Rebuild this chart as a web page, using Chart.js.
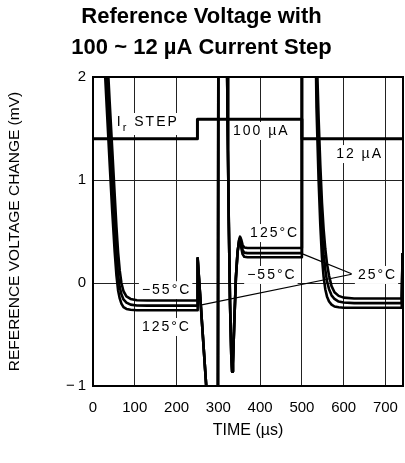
<!DOCTYPE html>
<html>
<head>
<meta charset="utf-8">
<script src="https://cdn.jsdelivr.net/npm/chart.js@4"></script>
<style>
  html, body { margin: 0; padding: 0; background: #fff; }
</style>
</head>
<body>
<canvas id="myChart" width="405" height="463"></canvas>
<script>
// time axis (µs) shared by the three temperature traces
const timeUs = [
  28, 33, 40, 46, 52, 56, 60, 64, 68, 73, 80, 90, 105, 130, 249,
  250.5, 276, 299, 300, 320,
  321, 323, 325, 328, 331, 333, 335, 338, 342, 346, 350, 352, 355, 358, 362, 370,
  500, 500, 533,
  535, 540, 544, 548, 552, 556, 560, 565, 571, 578, 588, 600, 625, 739, 741
];

// reference voltage change (mV)
const vMinus55 = [
  2.7, 2.3, 1.75, 1.3, 0.85, 0.55, 0.3, 0.12, 0.0, -0.08, -0.13, -0.155, -0.167, -0.17, -0.17,
  0.24, -1.3, -1.3, 2.3, 2.3,
  2.05, 1.3, 0.6, -0.2, -0.7, -0.86, -0.78, -0.4, 0.05, 0.3, 0.42, 0.43, 0.34, 0.28, 0.255, 0.25,
  0.25, 2.3, 2.3,
  2.3, 1.6, 1.15, 0.78, 0.52, 0.33, 0.19, 0.07, -0.03, -0.09, -0.125, -0.142, -0.15, -0.15, 0.29
];
const v25 = [
  2.4, 2.0, 1.45, 1.0, 0.55, 0.28, 0.08, -0.04, -0.11, -0.16, -0.19, -0.21, -0.218, -0.22, -0.22,
  0.24, -1.3, -1.3, 2.3, 2.3,
  2.05, 1.3, 0.6, -0.2, -0.7, -0.86, -0.78, -0.4, 0.05, 0.3, 0.42, 0.44, 0.38, 0.32, 0.295, 0.29,
  0.29, 2.3, 2.3,
  2.0, 1.3, 0.85, 0.5, 0.28, 0.13, 0.02, -0.06, -0.12, -0.155, -0.18, -0.19, -0.195, -0.195, 0.29
];
const v125 = [
  2.1, 1.7, 1.15, 0.7, 0.3, 0.08, -0.07, -0.15, -0.2, -0.235, -0.252, -0.26, -0.264, -0.265, -0.265,
  0.24, -1.3, -1.3, 2.3, 2.3,
  2.05, 1.3, 0.6, -0.2, -0.7, -0.86, -0.78, -0.4, 0.05, 0.3, 0.42, 0.45, 0.42, 0.37, 0.345, 0.34,
  0.34, 2.3, 2.3,
  1.7, 1.0, 0.57, 0.25, 0.06, -0.06, -0.13, -0.18, -0.21, -0.228, -0.236, -0.24, -0.24, -0.24, 0.29
];

// Ir current step trace
const stepTime = [0, 250, 250, 500, 500, 742];
const stepLevel = [1.4, 1.4, 1.59, 1.59, 1.4, 1.4];

// 25°C leader lines
const leaderTimeA = [500, 619];
const leaderMvA = [0.285, 0.09];
const leaderTimeB = [257, 619];
const leaderMvB = [-0.215, 0.085];

const xTicks = [0, 100, 200, 300, 400, 500, 600, 700];
const yTicks = [-1, 0, 1, 2];

const FONT = '"Liberation Sans", Arial, sans-serif';

const pts = (xs, ys) => xs.map((t, i) => ({ x: t, y: ys[i] }));

// text notes placed in data units (µs, mV)
const notes = [
  { parts: [{ s: 'I' }, { s: 'r', sub: true }, { s: ' STEP' }], t: 57, mv: 1.563 },
  { parts: [{ s: '100 µA' }], t: 335, mv: 1.476 },
  { parts: [{ s: '12 µA' }], t: 582, mv: 1.252 },
  { parts: [{ s: '−55°C' }], t: 117, mv: -0.07 },
  { parts: [{ s: '125°C' }], t: 117, mv: -0.427 },
  { parts: [{ s: '125°C' }], t: 376, mv: 0.485 },
  { parts: [{ s: '−55°C' }], t: 369, mv: 0.078 },
  { parts: [{ s: '25°C' }], t: 634, mv: 0.078 }
];

const notesPlugin = {
  id: 'notes',
  beforeDatasetsDraw(chart) {
    const ctx = chart.ctx;
    const x = chart.scales.x, y = chart.scales.y;
    ctx.save();
    ctx.textBaseline = 'middle';
    ctx.letterSpacing = '2px';
    notes.forEach(n => {
      let px = x.getPixelForValue(n.t);
      const py = y.getPixelForValue(n.mv);
      const hasSub = n.parts.some(p => p.sub);
      let w = 0;
      n.parts.forEach(p => {
        ctx.font = (p.sub ? 11 : 14) + 'px ' + FONT;
        w += ctx.measureText(p.s).width;
      });
      ctx.fillStyle = '#fff';
      ctx.fillRect(px - 3, py - 9, w + 4, hasSub ? 22 : 18);
      ctx.fillStyle = '#000';
      n.parts.forEach(p => {
        ctx.font = (p.sub ? 11 : 14) + 'px ' + FONT;
        ctx.fillText(p.s, px, p.sub ? py + 6 : py);
        px += ctx.measureText(p.s).width;
      });
    });
    ctx.restore();
  },
  afterDatasetsDraw(chart) {
    const { ctx, chartArea: a } = chart;
    ctx.save();
    ctx.strokeStyle = '#000';
    ctx.lineWidth = 2;
    ctx.beginPath();
    ctx.moveTo(a.left, a.top);
    ctx.lineTo(a.right, a.top);
    ctx.lineTo(a.right, a.bottom);
    ctx.stroke();
    ctx.restore();
  }
};

const trace = (data, w) => ({
  data: data,
  borderColor: '#000',
  borderWidth: w,
  pointRadius: 0,
  borderJoinStyle: 'round',
  fill: false
});

const ctx = document.getElementById('myChart');
const myChart = new Chart(ctx, {
  type: 'line',
  data: {
    datasets: [
      trace(pts(stepTime, stepLevel), 3),
      trace(pts(timeUs, vMinus55), 2.6),
      trace(pts(timeUs, v25), 2.6),
      trace(pts(timeUs, v125), 2.6),
      trace(pts(leaderTimeA, leaderMvA), 1.2),
      trace(pts(leaderTimeB, leaderMvB), 1.2)
    ]
  },
  options: {
    responsive: false,
    devicePixelRatio: 1,
    animation: false,
    events: [],
    layout: { padding: { left: 0, right: 2, top: 0, bottom: 0 } },
    plugins: {
      legend: { display: false },
      tooltip: { enabled: false },
      title: {
        display: true,
        text: ['Reference Voltage with', '100 ~ 12 µA Current Step'],
        color: '#000',
        font: { family: FONT, size: 22, weight: 'bold', lineHeight: 1.4 },
        padding: { top: 2, bottom: 13.4 }
      }
    },
    scales: {
      x: {
        type: 'linear',
        min: 0,
        max: 742,
        afterFit(s) {
          s.height = 77;
          s.paddingLeft = 0;
          s.paddingRight = 0;
        },
        afterBuildTicks(s) { s.ticks = xTicks.map(v => ({ value: v })); },
        ticks: {
          padding: 13,
          color: '#000',
          maxRotation: 0,
          autoSkip: false,
          font: { family: FONT, size: 15 }
        },
        grid: { color: '#222', lineWidth: 1, drawTicks: false },
        border: { color: '#000', width: 2 },
        title: {
          display: true,
          text: 'TIME (µs)',
          color: '#000',
          font: { family: FONT, size: 16 },
          padding: { top: 0, bottom: 22.4 }
        }
      },
      y: {
        min: -1,
        max: 2,
        afterFit(s) { s.width = 93; },
        afterBuildTicks(s) { s.ticks = yTicks.map(v => ({ value: v })); },
        ticks: {
          padding: 7,
          color: '#000',
          font: { family: FONT, size: 15 },
          callback: v => (v < 0 ? '−\u2009' + Math.abs(v) : String(v))
        },
        grid: { color: '#222', lineWidth: 1, drawTicks: false },
        border: { color: '#000', width: 2 },
        title: {
          display: true,
          text: 'REFERENCE VOLTAGE CHANGE (mV)',
          color: '#000',
          font: { family: FONT, size: 15.5 },
          padding: { top: 5.7, bottom: 0 }
        }
      }
    }
  },
  plugins: [notesPlugin]
});
</script>
</body>
</html>
